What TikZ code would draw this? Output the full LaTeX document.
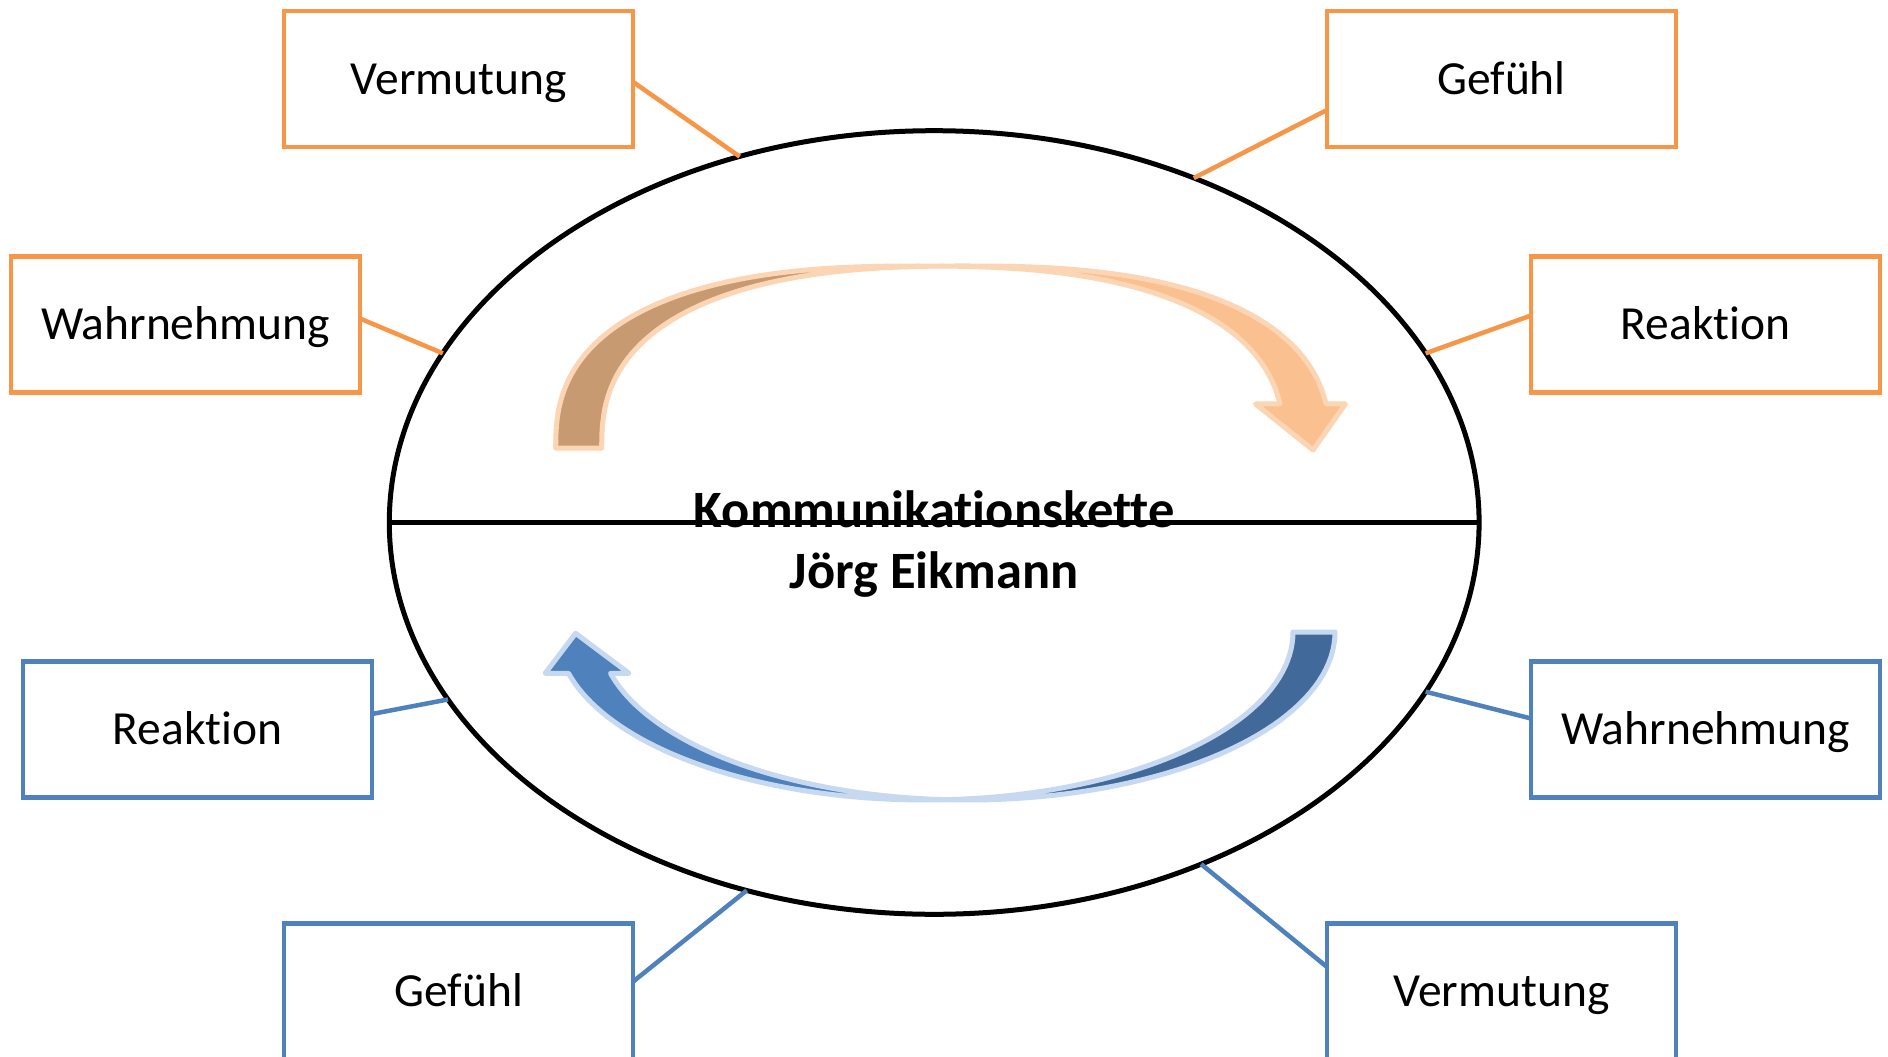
\documentclass[tikz,border=0pt]{standalone}
\usepackage{fontspec}
\setmainfont{Carlito}[Ligatures={NoCommon,NoContextual,NoRequired,NoRare}, RawFeature={-liga;-clig;-dlig;-calt}]
\usetikzlibrary{shapes.geometric,calc}
\definecolor{orgline}{HTML}{F79646}
\definecolor{bluline}{HTML}{4F81BD}
\definecolor{tanfill}{HTML}{C89A72}
\definecolor{orgfill}{HTML}{FAC090}
\definecolor{orgedge}{HTML}{FCD5B5}
\definecolor{bluedark}{HTML}{416A9A}
\definecolor{bluefill}{HTML}{4F81BD}
\definecolor{bluedge}{HTML}{C6D9F1}
\begin{document}
\begin{tikzpicture}[x=1pt,y=-1pt,
  labelbox/.style={draw, line width=4.5pt, minimum width=349pt, minimum height=136pt,
    inner sep=0pt, outer sep=0pt, font=\fontsize{47.5}{57}\selectfont, text height=30.6pt, text depth=0pt},
  obox/.style={labelbox, draw=orgline},
  bbox/.style={labelbox, draw=bluline},
  olink/.style={draw=orgline, line width=4.5pt},
  blink/.style={draw=bluline, line width=4.5pt},
  titletext/.style={font=\fontsize{52.5}{63}\selectfont\bfseries, inner sep=0pt, anchor=base},
  arrowpart/.style={line width=5pt, line join=round}
]
\fill[white] (0,0) rectangle (1888,1057);
\useasboundingbox (0,0) rectangle (1888,1057);

% central ellipse
\node[ellipse, draw=black, line width=5pt, minimum width=1089.8pt, minimum height=783.6pt,
  inner sep=0pt, outer sep=0pt] (ell) at (934.2,522.5) {};
\draw[line width=5pt] (ell.west) -- (ell.east);

% upper (orange) curved arrow: two shifted arches, centre 920 / 966, base y 448
\path[arrowpart, fill=tanfill, draw=orgedge]
  (555.7,448)
  -- plot[domain=179.9:90.1, samples=45] ({920-364.3*pow(-cos(\x),0.8)}, {448-182*pow(sin(\x),0.8)})
  -- plot[domain=91.81:179.9, samples=45] ({966-364.3*pow(-cos(\x),0.8)}, {448-182*pow(sin(\x),0.8)})
  -- (601.7,448) -- cycle;
\path[arrowpart, fill=orgfill, draw=orgedge]
  plot[domain=91.81:90.1, samples=4] ({966-364.3*pow(-cos(\x),0.8)}, {448-182*pow(sin(\x),0.8)})
  -- plot[domain=89.9:9.77, samples=45] ({966+364.3*pow(cos(\x),0.8)}, {448-182*pow(sin(\x),0.8)})
  -- (1345.4,404) -- (1313,450) -- (1255.5,404)
  -- plot[domain=9.77:88.19, samples=45] ({920+364.3*pow(cos(\x),0.8)}, {448-182*pow(sin(\x),0.8)})
  -- cycle;

% lower (blue) curved arrow: two shifted half ellipses, centre 925.1 / 967.1, base y 632
\path[arrowpart, fill=bluedark, draw=bluedge]
  plot[domain=0:93.3, samples=45] ({967.1+367.9*cos(\x)}, {632+168*sin(\x)})
  -- plot[domain=86.7:0, samples=45] ({925.1+367.9*cos(\x)}, {632+168*sin(\x)})
  -- cycle;
\path[arrowpart, fill=bluefill, draw=bluedge]
  plot[domain=86.7:165.77, samples=45] ({925.1+367.9*cos(\x)}, {632+168*sin(\x)})
  -- (545.2,673.3) -- (575.6,633.3) -- (629,673.3)
  -- plot[domain=165.77:93.3, samples=45] ({967.1+367.9*cos(\x)}, {632+168*sin(\x)})
  -- cycle;

% title
\node[titletext] (t1) at (934.2,527) {Kommunikationskette};
\node[titletext] (t2) at (934.2,588) {Jörg Eikmann};

% orange boxes
\node[obox] (vermO) at (458.7,79) {Vermutung};
\node[obox] (gefO) at (1501.5,79) {Gefühl};
\node[obox] (wahrO) at (185.4,324.5) {Wahrnehmung};
\node[obox] (reakO) at (1705.5,324.5) {Reaktion};

% blue boxes
\node[bbox] (reakB) at (197.5,729.5) {Reaktion};
\node[bbox] (wahrB) at (1705.5,729.5) {Wahrnehmung};
\node[bbox] (gefB) at (458.7,991.5) {Gefühl};
\node[bbox] (vermB) at (1501.5,991.5) {Vermutung};

% connectors
\draw[olink] ([yshift=-3pt]vermO.east) -- (ell.118.2);
\draw[olink] ([yshift=-31pt]gefO.west) -- (ell.53.45);
\draw[olink] ([yshift=6pt]wahrO.east) -- (ell.161.9);
\draw[olink] ([yshift=9pt]reakO.west) -- (ell.19.8);
\draw[blink] ([yshift=15.5pt]reakB.east) -- (ell.200.05);
\draw[blink] ([yshift=11pt]wahrB.west) -- (ell.-19.36);
\draw[blink] ([yshift=10pt]gefB.east) -- (ell.243.25);
\draw[blink] ([yshift=24.5pt]vermB.west) -- (ell.-52.8);
\end{tikzpicture}
\end{document}
